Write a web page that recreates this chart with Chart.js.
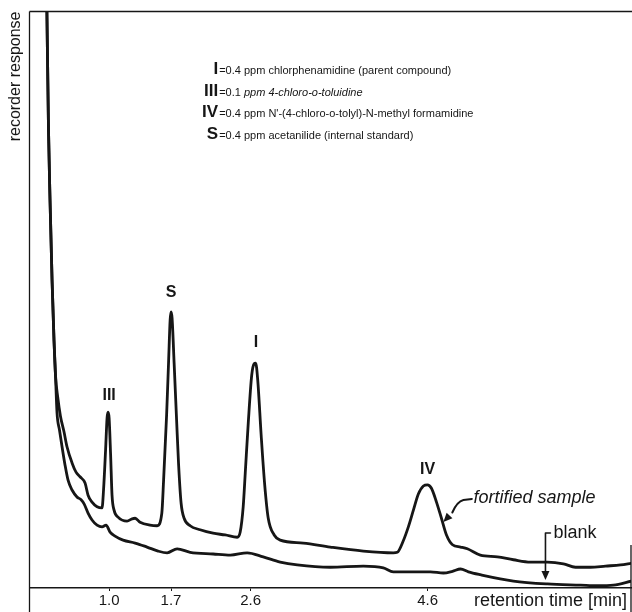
<!DOCTYPE html>
<html>
<head>
<meta charset="utf-8">
<script src="https://cdn.jsdelivr.net/npm/chart.js@4/dist/chart.umd.min.js"></script>
<style>
  html, body { margin: 0; padding: 0; background: #fff; }
  canvas { display: block; }
</style>
</head>
<body>
<canvas id="chromatogram" width="632" height="612"></canvas>
<script>
// Chromatogram: retention time [min] vs recorder response (0-100 of full scale)

const tickValues = [1.0, 1.7, 2.6, 4.6];

const fortifiedTime = [
  0.292, 0.304, 0.315, 0.332, 0.355, 0.377, 0.394, 0.420, 0.450, 0.490,
  0.524, 0.581, 0.626, 0.671, 0.728, 0.762, 0.807, 0.864, 0.920, 0.937,
  0.960, 0.977, 0.988, 1.000, 1.017, 1.033, 1.056, 1.101, 1.203, 1.260,
  1.294, 1.350, 1.463, 1.543, 1.596, 1.616, 1.650, 1.673, 1.690, 1.701,
  1.712, 1.735, 1.763, 1.786, 1.814, 1.848, 1.916, 2.029, 2.176, 2.312,
  2.448, 2.482, 2.516, 2.539, 2.573, 2.612, 2.640, 2.657, 2.680, 2.719,
  2.759, 2.799, 2.866, 2.934, 3.195, 3.500, 3.874, 4.213, 4.258, 4.326,
  4.383, 4.440, 4.496, 4.553, 4.599, 4.644, 4.701, 4.757, 4.814, 4.882,
  4.973, 5.050, 5.197, 5.390, 5.571, 5.763, 5.955, 6.136, 6.272, 6.442,
  6.612, 6.782, 6.907,
];
const fortifiedResponse = [
  105.5, 91.6, 79.4, 67.3, 53.4, 43.0, 36.9, 33.0, 29.8, 27.1,
  24.5, 21.7, 20.1, 19.3, 18.2, 16.1, 14.9, 14.1, 13.9, 17.0,
  23.9, 29.5, 30.5, 29.5, 23.1, 16.1, 13.5, 12.3, 11.6, 12.0,
  12.1, 11.4, 10.9, 10.8, 13.0, 18.7, 30.0, 39.5, 46.5, 47.9,
  46.8, 39.0, 29.1, 21.3, 14.7, 12.1, 10.8, 10.1, 9.5, 9.2,
  8.8, 9.7, 14.1, 19.9, 28.6, 36.9, 38.9, 39.0, 36.1, 26.5,
  17.9, 12.1, 9.2, 8.3, 7.8, 7.1, 6.4, 6.1, 6.2, 8.2,
  10.6, 13.5, 16.3, 17.7, 17.9, 17.3, 14.9, 12.1, 9.2, 7.5,
  7.1, 6.8, 5.7, 5.4, 4.9, 4.5, 4.5, 4.2, 3.6, 3.6,
  3.8, 4.0, 4.3,
];

const blankTime = [
  0.292, 0.304, 0.315, 0.332, 0.355, 0.377, 0.394, 0.411, 0.439, 0.468,
  0.502, 0.536, 0.581, 0.637, 0.683, 0.717, 0.762, 0.807, 0.864, 0.920,
  0.966, 1.011, 1.067, 1.158, 1.294, 1.429, 1.554, 1.656, 1.769, 1.916,
  2.176, 2.371, 2.561, 2.742, 2.934, 3.127, 3.500, 3.874, 4.100, 4.213,
  4.632, 4.779, 4.882, 4.973, 5.062, 5.197, 5.571, 5.955, 6.329, 6.521,
  6.702, 6.907,
];
const blankResponse = [
  105.5, 91.6, 79.4, 67.3, 53.4, 43.0, 36.9, 30.4, 27.4, 24.5,
  21.3, 18.7, 17.0, 15.8, 15.3, 14.6, 13.0, 11.8, 10.9, 10.6,
  10.9, 9.7, 9.0, 8.3, 7.8, 7.1, 6.4, 6.1, 6.8, 6.2,
  5.9, 5.7, 6.1, 5.4, 4.5, 4.0, 3.6, 3.8, 3.5, 2.8,
  2.8, 2.6, 2.9, 3.3, 2.8, 2.3, 1.2, 0.7, 0.5, 0.4,
  0.5, 1.2,
];

const peakNames = ['III', 'S', 'I', 'IV'];
const legendKeys = ['I', 'III', 'IV', 'S'];
const legendTexts = [
  '=0.4 ppm chlorphenamidine (parent compound)',
  '=0.1 ppm 4-chloro-o-toluidine',
  "=0.4 ppm N'-(4-chloro-o-tolyl)-N-methyl formamidine",
  '=0.4 ppm acetanilide (internal standard)',
];

const INK = '#161616';
const SANS = '"Liberation Sans", Arial, Helvetica, sans-serif';

function toPoints(xs, ys) {
  return xs.map((x, i) => ({ x, y: ys[i] }));
}

/** Filled arrow head at (tx, ty), pointing away from (fx, fy) */
function arrowHead(ctx, fx, fy, tx, ty, len, half) {
  const a = Math.atan2(ty - fy, tx - fx);
  ctx.beginPath();
  ctx.moveTo(tx, ty);
  ctx.lineTo(tx - len * Math.cos(a) + half * Math.sin(a), ty - len * Math.sin(a) - half * Math.cos(a));
  ctx.lineTo(tx - len * Math.cos(a) - half * Math.sin(a), ty - len * Math.sin(a) + half * Math.cos(a));
  ctx.closePath();
  ctx.fill();
}

/** Recorder paper frame and the x-axis caption */
const framePlugin = {
  id: 'frame',
  afterDraw(chart) {
    const { ctx, chartArea: a } = chart;
    ctx.save();
    ctx.strokeStyle = INK;
    ctx.lineWidth = 1.3;
    ctx.beginPath();
    ctx.moveTo(a.left, a.top);
    ctx.lineTo(chart.width, a.top);
    ctx.moveTo(a.left, a.top);
    ctx.lineTo(a.left, chart.height);
    ctx.moveTo(a.right, a.bottom - 43);
    ctx.lineTo(a.right, chart.height);
    ctx.stroke();

    ctx.fillStyle = INK;
    ctx.font = `18px ${SANS}`;
    ctx.textAlign = 'right';
    ctx.textBaseline = 'middle';
    ctx.fillText('retention time [min]', a.right - 4, a.bottom + 13);
    ctx.restore();
  },
};

/** Peak labels, compound key and trace captions */
const notesPlugin = {
  id: 'notes',
  afterDatasetsDraw(chart) {
    const { ctx } = chart;
    const x = (t) => chart.scales.x.getPixelForValue(t);
    const y = (v) => chart.scales.y.getPixelForValue(v);
    ctx.save();
    ctx.fillStyle = INK;
    ctx.strokeStyle = INK;

    // peak labels
    const peakSpots = [[1.0, 33.3], [1.70, 51.3], [2.66, 42.5], [4.60, 20.6]];
    ctx.textAlign = 'center';
    ctx.textBaseline = 'middle';
    peakNames.forEach((name, i) => {
      ctx.font = `bold 16px ${SANS}`;
      ctx.fillText(name, x(peakSpots[i][0]), y(peakSpots[i][1]));
    });

    // compound key
    const keyX = x(2.233);
    const keyY = y(89.2);
    legendKeys.forEach((key, i) => {
      const by = keyY + i * 21.8;
      ctx.textBaseline = 'alphabetic';
      ctx.textAlign = 'right';
      ctx.font = `bold 17px ${SANS}`;
      ctx.fillText(key, keyX, by);
      ctx.textAlign = 'left';
      const text = legendTexts[i];
      if (key === 'III') {
        const head = text.slice(0, 5);
        ctx.font = `11px ${SANS}`;
        ctx.fillText(head, keyX + 1, by);
        const w = ctx.measureText(head).width;
        ctx.font = `italic 11px ${SANS}`;
        ctx.fillText(text.slice(5), keyX + 1 + w, by);
      } else {
        ctx.font = `11px ${SANS}`;
        ctx.fillText(text, keyX + 1, by);
      }
    });

    // fortified sample caption with hooked arrow
    ctx.font = `italic 18px ${SANS}`;
    ctx.textAlign = 'left';
    ctx.textBaseline = 'alphabetic';
    ctx.fillText('fortified sample', x(5.12), y(14.7));
    ctx.lineWidth = 2;
    ctx.lineCap = 'round';
    ctx.lineJoin = 'round';
    ctx.beginPath();
    ctx.moveTo(x(5.101), y(15.44));
    ctx.lineTo(x(5.005), y(15.26));
    ctx.quadraticCurveTo(x(4.935), y(15.0), x(4.880), y(13.1));
    ctx.stroke();
    arrowHead(ctx, x(4.880), y(13.1), x(4.779), y(11.45), 9, 4);

    // blank caption with bracket arrow
    ctx.font = `18px ${SANS}`;
    ctx.fillText('blank', x(6.023), y(8.67));
    ctx.lineWidth = 1.6;
    ctx.beginPath();
    ctx.moveTo(x(5.989), y(9.54));
    ctx.lineTo(x(5.933), y(9.54));
    ctx.lineTo(x(5.933), y(2.7));
    ctx.stroke();
    arrowHead(ctx, x(5.933), y(2.7), x(5.933), y(1.39), 9, 4);

    ctx.restore();
  },
};

new Chart(document.getElementById('chromatogram'), {
  type: 'line',
  data: {
    datasets: [
      { label: 'fortified sample', data: toPoints(fortifiedTime, fortifiedResponse) },
      { label: 'blank', data: toPoints(blankTime, blankResponse) },
    ],
  },
  options: {
    responsive: false,
    animation: false,
    layout: { padding: { top: 11.5, right: 1, left: 0, bottom: 0 } },
    plugins: { legend: { display: false }, tooltip: { enabled: false } },
    elements: {
      point: { radius: 0 },
      line: {
        borderColor: INK,
        borderWidth: 2.8,
        cubicInterpolationMode: 'monotone',
        borderJoinStyle: 'round',
        borderCapStyle: 'round',
        fill: false,
      },
    },
    scales: {
      x: {
        type: 'linear',
        min: 0.1,
        max: 6.9,
        afterBuildTicks: (scale) => { scale.ticks = tickValues.map((value) => ({ value })); },
        afterFit: (scale) => { scale.height = 24; },
        ticks: {
          autoSkip: false,
          maxRotation: 0,
          padding: 1,
          color: INK,
          font: { family: '"Liberation Sans Narrow", "Liberation Sans", Arial, sans-serif', size: 15 },
          callback: (v) => Number(v).toFixed(1),
        },
        grid: { drawOnChartArea: false, tickLength: 3, color: INK },
        border: { color: INK, width: 1.5 },
      },
      y: {
        min: 0,
        max: 100,
        afterFit: (scale) => { scale.width = 29.5; },
        ticks: { display: false },
        grid: { display: false },
        border: { display: false },
        title: {
          display: true,
          text: 'recorder response',
          align: 'end',
          color: INK,
          padding: { top: 6, bottom: 0 },
          font: { family: SANS, size: 16 },
        },
      },
    },
  },
  plugins: [framePlugin, notesPlugin],
});
</script>
</body>
</html>
